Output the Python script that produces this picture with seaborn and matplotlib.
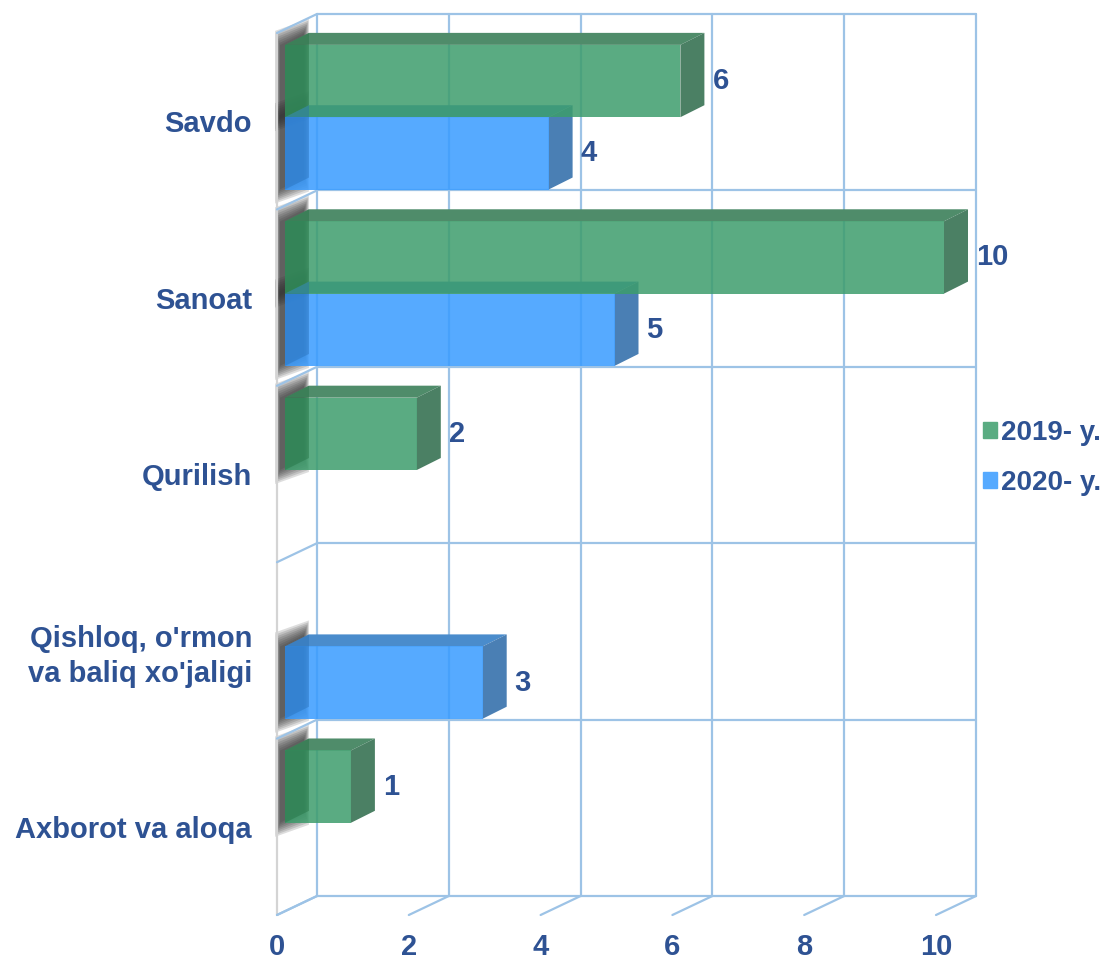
import pandas as pd
import seaborn as sns
import matplotlib.pyplot as plt
from matplotlib.patches import Polygon, Patch

# data
categories = ["Savdo", "Sanoat", "Qurilish", "Qishloq, o'rmon\nva baliq xo'jaligi", "Axborot va aloqa"]
years = ["2019- y.", "2020- y."]
vals_2019 = [6, 10, 2, None, 1]
vals_2020 = [4, 5, None, 3, None]
x_ticks = [0, 2, 4, 6, 8, 10]

green = "#5aac82"
blue = "#56aaff"
txt = "#2e5293"
grid_c = "#9dc3e6"

rows = []
for cat, a, b in zip(categories, vals_2019, vals_2020):
    if a is not None:
        rows.append((cat, years[0], a))
    if b is not None:
        rows.append((cat, years[1], b))
df = pd.DataFrame(rows, columns=["cat", "year", "value"])

sns.set_style("white")
plt.rcParams["font.family"] = ["Liberation Sans", "DejaVu Sans"]

fig = plt.figure(figsize=(11.05, 9.6), dpi=100)
W, H = 1105, 960
# axes = front plane of the 3d box
ax = fig.add_axes([277 / W, 1 - 915 / H, 659 / W, 882 / H])

# front colours are a bit darker because they are drawn semi transparent
sns.barplot(data=df, y="cat", x="value", hue="year", order=categories,
            hue_order=years, palette=["#3d9d6c", "#389bff"], orient="h", width=0.82,
            dodge=True, legend=False, saturation=1, ax=ax, zorder=3)

ax.set_xlim(0, 10)
ax.set_ylim(4.5, -0.5)

ux = 10 / 659
uy = 5 / 882


def off(px_x, px_y):
    return px_x * ux, px_y * uy


# back wall grid
bx, by = off(40, -19)
for t in x_ticks:
    ax.plot([t + bx, t + bx], [-0.5 + by, 4.5 + by], color=grid_c, lw=1.6, zorder=1, clip_on=False)
    ax.plot([t, t + bx], [4.5, 4.5 + by], color=grid_c, lw=1.6, zorder=1, clip_on=False)
for i in range(len(categories) + 1):
    yb = i - 0.5
    ax.plot([0 + bx, 10 + bx], [yb + by, yb + by], color=grid_c, lw=1.6, zorder=1, clip_on=False)
    ax.plot([0, bx], [yb, yb + by], color=grid_c, lw=1.6, zorder=1, clip_on=False)
ax.plot([0, 0], [-0.5, 4.5], color="#d4d4d4", lw=1.6, zorder=0.8, clip_on=False)

# bars: shift front faces a little into the box and add the 3d faces
fx, fy = off(8, -4)
dx, dy = off(24, -12)
faces = {
    # top, side, left overlay
    "g": ("#4f8c6a", "#4b8064", "#1e6c3c"),
    "b": ("#4a8ccc", "#4a7fb4", "#246ab1"),
}
for p in list(ax.patches):
    w = p.get_width()
    if not w or w != w:
        continue
    key = "g" if p.get_facecolor()[2] < 0.6 else "b"
    top_c, side_c, left_c = faces[key]
    p.set_x(p.get_x() + fx)
    p.set_y(p.get_y() + fy)
    p.set_alpha(0.85)
    p.set_linewidth(0)
    p.set_clip_on(False)
    x0, x1 = p.get_x(), p.get_x() + w
    y0, y1 = p.get_y(), p.get_y() + p.get_height()
    # blurred shadow on the left wall
    sx = -5 * ux
    for k in range(8):
        ex, ey = off(k * 0.7, k * 2.0)
        ax.add_patch(Polygon([(x0 + sx - ex, y0 - ey), (x0 + sx + dx + ex, y0 + dy - ey),
                              (x0 + sx + dx + ex, y1 + dy + ey), (x0 + sx - ex, y1 + ey)],
                             closed=True, color="#303030", alpha=0.16, lw=0, zorder=0.5,
                             clip_on=False))
    ax.add_patch(Polygon([(x0, y0), (x1, y0), (x1 + dx, y0 + dy), (x0 + dx, y0 + dy)],
                         closed=True, color=top_c, lw=0, zorder=2, clip_on=False))
    ax.add_patch(Polygon([(x1, y0), (x1 + dx, y0 + dy), (x1 + dx, y1 + dy), (x1, y1)],
                         closed=True, color=side_c, lw=0, zorder=2.5, clip_on=False))
    ax.add_patch(Polygon([(x0, y0), (x0 + dx, y0 + dy), (x0 + dx, y1 + dy), (x0, y1)],
                         closed=True, color=left_c, alpha=0.38, lw=0, zorder=3.5, clip_on=False))
    ax.text(x1 + 32 * ux, (y0 + y1) / 2, f"{w:g}", color=txt, fontsize=21,
            fontweight="bold", ha="left", va="center", zorder=5)

ax.set_xticks(x_ticks)
ax.set_xticklabels([str(t) for t in x_ticks])
ax.tick_params(axis="x", length=0, pad=13, labelsize=21, labelcolor=txt)
ax.tick_params(axis="y", length=0, pad=18, labelsize=21, labelcolor=txt)
for lab in ax.get_xticklabels() + ax.get_yticklabels():
    lab.set_fontweight("bold")
    lab.set_linespacing(1.3)
ax.set_xlabel("")
ax.set_ylabel("")
ax.grid(False)
for s in ax.spines.values():
    s.set_visible(False)
ax.patch.set_alpha(0)

handles = [Patch(color=green, label=years[0]), Patch(color=blue, label=years[1])]
leg = fig.legend(handles=handles, loc="center left", bbox_to_anchor=(983 / W, 1 - 458 / H),
                 frameon=False, handlelength=0.5, handleheight=0.5, handletextpad=0.15,
                 borderpad=0, borderaxespad=0, labelspacing=0.85,
                 prop={"size": 20, "weight": "bold"})
for t in leg.get_texts():
    t.set_color(txt)

fig.savefig("out.png", dpi=100)
